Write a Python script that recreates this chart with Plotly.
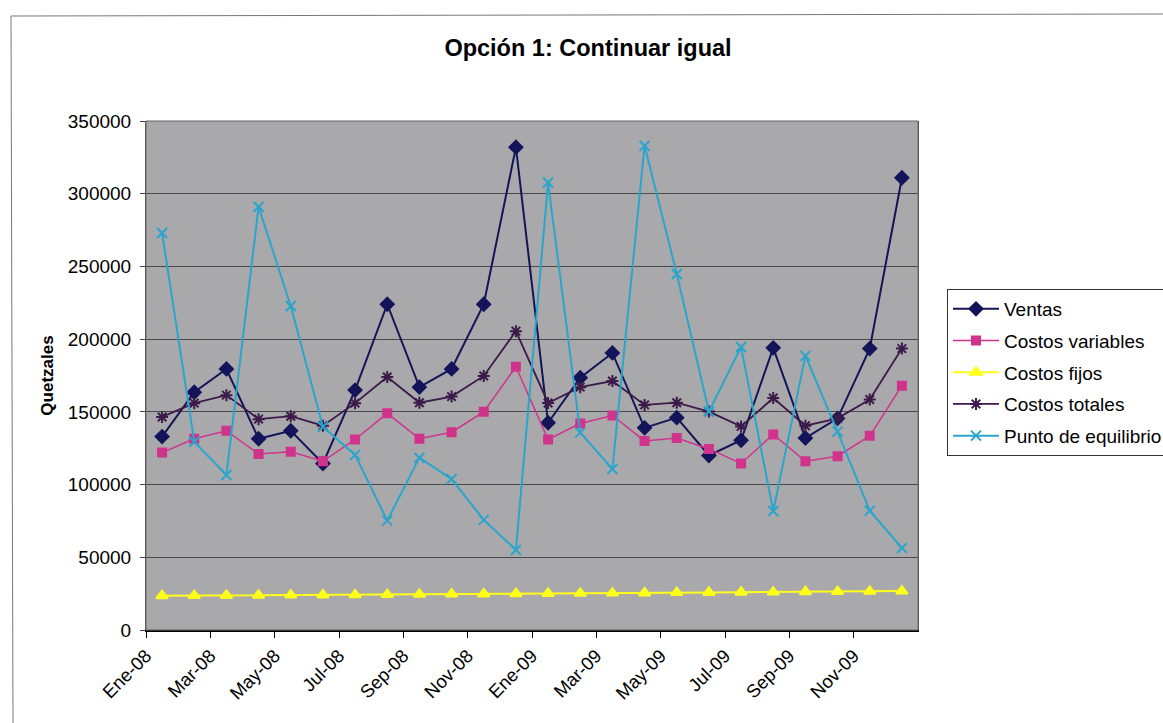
import plotly.graph_objects as go

# Meses del periodo (enero 2008 - diciembre 2009)
meses = ["Ene-08", "Feb-08", "Mar-08", "Abr-08", "May-08", "Jun-08",
         "Jul-08", "Ago-08", "Sep-08", "Oct-08", "Nov-08", "Dic-08",
         "Ene-09", "Feb-09", "Mar-09", "Abr-09", "May-09", "Jun-09",
         "Jul-09", "Ago-09", "Sep-09", "Oct-09", "Nov-09", "Dic-09"]

ventas = [133000, 163500, 179500, 131500, 137000, 114500, 165000, 224000,
          167000, 179500, 224000, 332000, 142500, 173500, 190500, 139000,
          146000, 120000, 130500, 194000, 132000, 145500, 193500, 311000]

costos_variables = [122000, 131500, 137000, 121000, 122500, 116000, 131000, 149000,
                    131500, 136000, 150000, 181000, 131000, 142000, 147500, 130000,
                    132000, 124500, 114500, 134500, 116000, 119500, 133500, 168000]

costos_fijos = [23600, 23700, 23800, 23900, 24000, 24100, 24200, 24400,
                24500, 24700, 24800, 25000, 25100, 25200, 25400, 25500,
                25700, 25800, 26000, 26100, 26300, 26400, 26600, 26800]

costos_totales = [146500, 156000, 161500, 145000, 147000, 140500, 156000, 174000,
                  156300, 160500, 174700, 205500, 156100, 167000, 171200, 154800,
                  156300, 150200, 140000, 159500, 140500, 145500, 158500, 193500]

punto_equilibrio = [273000, 129500, 106600, 291000, 222800, 139800, 120400, 75200,
                    118500, 103800, 75700, 55000, 307700, 135700, 110700, 333000,
                    244800, 150200, 194600, 81800, 188500, 136400, 82000, 56400]

y_ticks = [0, 50000, 100000, 150000, 200000, 250000, 300000, 350000]

x = list(range(len(meses)))

series = [
    ("Ventas", ventas, "#14145a", "diamond", 10, 2),
    ("Costos variables", costos_variables, "#d0338c", "square", 8, 1.5),
    ("Costos fijos", costos_fijos, "#ffff1a", "triangle-up", 10, 2),
    ("Costos totales", costos_totales, "#3c1a4a", "asterisk-open", 10, 1.8),
    ("Punto de equilibrio", punto_equilibrio, "#2aa5cc", "x-thin-open", 10, 2),
]

fig = go.Figure()
for k, (nombre, valores, color, simbolo, tam, ancho) in enumerate(series):
    fig.add_trace(go.Scatter(
        x=x, y=valores, name=nombre, mode="lines+markers",
        legendgroup=f"g{k}",
        line=dict(color=color, width=ancho),
        marker=dict(symbol=simbolo, size=tam, color=color,
                    line=dict(color=color, width=2)),
    ))

L, R, T, B = 146, 245, 121, 93
W, H = 1163, 723
pw, ph = W - L - R, H - T - B

def px(xp):
    return (xp - L) / pw

def py(yp):
    return (H - B - yp) / ph

fig.update_layout(
    width=W, height=H,
    margin=dict(l=L, r=R, t=T, b=B, autoexpand=False),
    paper_bgcolor="white",
    plot_bgcolor="#a9a9ab",
    font=dict(family="Arial, Liberation Sans, sans-serif", color="black", size=19),
    title=dict(text="<b>Opción 1: Continuar igual</b>",
               font=dict(size=23.5, color="black"),
               x=px(588), xref="paper", xanchor="center",
               y=1 - 48 / H, yref="container", yanchor="middle"),
    xaxis=dict(
        range=[-0.5, len(meses) - 0.5],
        tickmode="array",
        tickvals=[i - 0.5 for i in x[::2]],
        ticktext=meses[::2],
        tickangle=-45,
        ticks="outside", ticklen=6, tickcolor="black",
        showgrid=False, zeroline=False,
        showline=True, linecolor="black", linewidth=1.5,
        tickfont=dict(size=18.5),
    ),
    yaxis=dict(
        range=[0, 350000],
        tickmode="array", tickvals=y_ticks,
        ticktext=[str(v) for v in y_ticks],
        ticks="outside", ticklen=5, tickcolor="#444",
        ticklabelstandoff=5,
        showgrid=True, gridcolor="#4a4a4a", gridwidth=1,
        zeroline=False, showline=True, linecolor="#555", linewidth=1,
        mirror=True,
        tickfont=dict(size=19),
        title=dict(text="<b>Quetzales</b>", font=dict(size=17), standoff=9),
    ),
    legend=dict(
        x=px(947), y=py(289), xanchor="left", yanchor="top",
        bordercolor="#333", borderwidth=1, bgcolor="white",
        font=dict(size=19), traceorder="grouped", tracegroupgap=4,
        itemwidth=46,
    ),
    showlegend=True,
)

# Marco exterior del gráfico
fig.add_shape(type="line", xref="paper", yref="paper",
              x0=px(11), y0=py(16), x1=px(1163), y1=py(14),
              line=dict(color="#777", width=1))
fig.add_shape(type="line", xref="paper", yref="paper",
              x0=px(11), y0=py(16), x1=px(13), y1=py(723),
              line=dict(color="#777", width=1))
# Borde del área de trazado
fig.add_shape(type="rect", xref="paper", yref="paper",
              x0=0, y0=0, x1=1, y1=1, line=dict(color="#666", width=1))

fig.write_html("out.html")
